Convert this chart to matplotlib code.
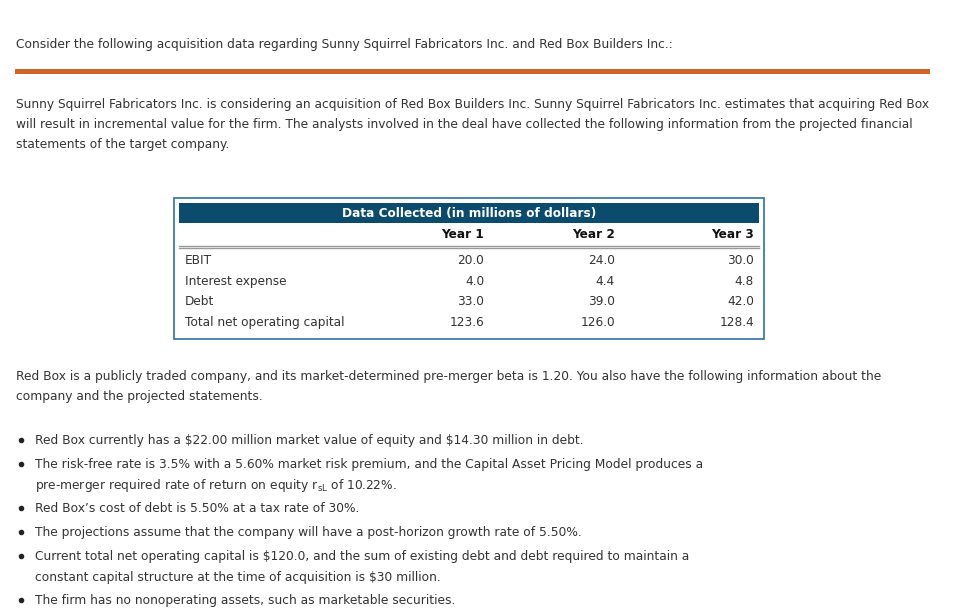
import matplotlib.pyplot as plt
from matplotlib.patches import Rectangle

# text content
intro = "Consider the following acquisition data regarding Sunny Squirrel Fabricators Inc. and Red Box Builders Inc.:"
para1 = [
    "Sunny Squirrel Fabricators Inc. is considering an acquisition of Red Box Builders Inc. Sunny Squirrel Fabricators Inc. estimates that acquiring Red Box",
    "will result in incremental value for the firm. The analysts involved in the deal have collected the following information from the projected financial",
    "statements of the target company.",
]
table_title = "Data Collected (in millions of dollars)"
years = ["Year 1", "Year 2", "Year 3"]
row_labels = ["EBIT", "Interest expense", "Debt", "Total net operating capital"]
year1 = [20.0, 4.0, 33.0, 123.6]
year2 = [24.0, 4.4, 39.0, 126.0]
year3 = [30.0, 4.8, 42.0, 128.4]
para2 = [
    "Red Box is a publicly traded company, and its market-determined pre-merger beta is 1.20. You also have the following information about the",
    "company and the projected statements.",
]
bullets = [
    ["Red Box currently has a $22.00 million market value of equity and $14.30 million in debt."],
    ["The risk-free rate is 3.5% with a 5.60% market risk premium, and the Capital Asset Pricing Model produces a",
     "pre-merger required rate of return on equity r$_{\\rm sL}$ of 10.22%."],
    ["Red Box\u2019s cost of debt is 5.50% at a tax rate of 30%."],
    ["The projections assume that the company will have a post-horizon growth rate of 5.50%."],
    ["Current total net operating capital is $120.0, and the sum of existing debt and debt required to maintain a",
     "constant capital structure at the time of acquisition is $30 million."],
    ["The firm has no nonoperating assets, such as marketable securities."],
]

txt = "#333333"
fs = 8.8
fs_tab = 8.7

fig = plt.figure(figsize=(9.61, 6.16), dpi=100)
ax = fig.add_axes([0, 0, 1, 1])
ax.set_xlim(0, 961)
ax.set_ylim(616, 0)
ax.axis("off")

ax.text(16, 48, intro, fontsize=fs, color=txt, va="baseline", parse_math=False)
ax.add_patch(Rectangle((15, 69), 915, 4.5, color="#CC6526", lw=0))

for i, line in enumerate(para1):
    ax.text(16, 108 + i * 20, line, fontsize=fs, color=txt, va="baseline", parse_math=False)

# table
ax.add_patch(Rectangle((173.5, 197.5), 590.5, 141.5, fill=False, ec="#2A73A0", lw=1.2))
ax.add_patch(Rectangle((179, 203), 580, 20, color="#0B4C6E", lw=0))
ax.text(469, 217.5, table_title, fontsize=fs_tab, color="white", weight="bold",
        ha="center", va="baseline")
col_x = [484, 615, 754]
for x, y in zip(col_x, years):
    ax.text(x, 238.5, y, fontsize=fs_tab, color="#111111", weight="bold", ha="right", va="baseline")
ax.plot([179, 759], [245.5, 245.5], color="#9A9A9A", lw=1)
ax.plot([179, 759], [248, 248], color="#9A9A9A", lw=1)
row_y = [264, 285, 305, 326]
for i, (lab, y) in enumerate(zip(row_labels, row_y)):
    ax.text(185, y, lab, fontsize=fs_tab, color=txt, va="baseline")
    for x, col in zip(col_x, [year1, year2, year3]):
        ax.text(x, y, f"{col[i]:.1f}", fontsize=fs_tab, color=txt, ha="right", va="baseline")

for i, line in enumerate(para2):
    ax.text(16, 380 + i * 20, line, fontsize=fs, color=txt, va="baseline", parse_math=False)

bullet_y = [444, 468, 512, 536, 560, 604]
for y0, lines in zip(bullet_y, bullets):
    ax.plot(21, y0 - 4.5, "o", ms=3.0, color="#222222")
    for j, line in enumerate(lines):
        ax.text(35, y0 + j * 21, line, fontsize=fs, color=txt, va="baseline",
                parse_math="r$_" in line)

fig.savefig("out.png", dpi=100, facecolor="white")
